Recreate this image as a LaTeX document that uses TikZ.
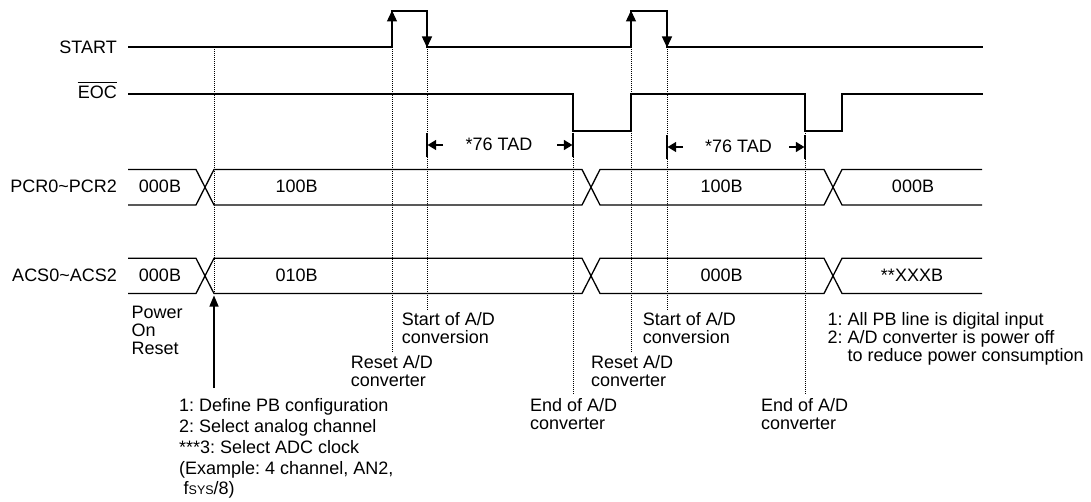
\documentclass[tikz,border=0pt]{standalone}
\usepackage{fontspec}
\setmainfont{Liberation Sans}
\usetikzlibrary{arrows.meta}
\frenchspacing
\begin{document}
\begin{tikzpicture}[x=1pt,y=-1pt,
  sig/.style={line width=1.3pt, line join=miter},
  guide/.style={line width=0.9pt, dash pattern=on 1pt off 1pt},
  txt/.style={font=\fontsize{18}{18}\selectfont, inner sep=0pt},
  note/.style={txt, anchor=north west, align=left},
  edgetip/.style={-{Triangle[length=11pt,width=10pt]}},
  dimtip/.style={-{Triangle[length=8.5pt,width=10pt]}}]
\useasboundingbox (0,0) rectangle (1091,502);

% signal names
\node[txt, anchor=base east] (startlbl) at (117,54) {START};
\node[txt, anchor=base east] (eoclbl) at (117,99) {EOC};
\draw[line width=1pt] ([yshift=4pt]eoclbl.north west) -- ([yshift=4pt]eoclbl.north east);
\node[txt, anchor=base east] (pcrlbl) at (117,193) {PCR0\textasciitilde PCR2};
\node[txt, anchor=base east] (acslbl) at (117,282) {ACS0\textasciitilde ACS2};

% guide lines (dotted)
\draw[guide] (214,47) -- (214,293);
\draw[guide] (392,47) -- (392,352);
\draw[guide] (427,47) -- (427,310);
\draw[guide] (573,131) -- (573,395);
\draw[guide] (631,47) -- (631,352);
\draw[guide] (667,47) -- (667,310);
\draw[guide] (805,131) -- (805,395);

% START
\draw[sig] (128,47) -- (392,47) -- (392,11) -- (427,11) -- (427,47) -- (631,47)
  -- (631,11) -- (667,11) -- (667,47) -- (983,47);
\draw[sig, edgetip] (392,35) -- (392,10.5);
\draw[sig, edgetip] (427,25) -- (427,47.5);
\draw[sig, edgetip] (631,35) -- (631,10.5);
\draw[sig, edgetip] (667,25) -- (667,47.5);

% EOC
\draw[sig] (128,94) -- (573,94) -- (573,131) -- (631,131) -- (631,94) -- (805,94)
  -- (805,131) -- (842,131) -- (842,94) -- (983,94);

% 76 TAD dimensions
\draw[sig] (427,133) -- (427,157);
\draw[sig] (573,133) -- (573,157);
\draw[sig, dimtip] (443,145) -- (427.6,145);
\draw[sig, dimtip] (557,145) -- (572.4,145);
\node[txt, anchor=base] (tad1) at (499,151) {*76 TAD};
\draw[sig] (667,135) -- (667,159);
\draw[sig] (805,135) -- (805,159);
\draw[sig, dimtip] (683,147) -- (667.6,147);
\draw[sig, dimtip] (789,147) -- (804.4,147);
\node[txt, anchor=base] (tad2) at (738.5,153) {*76 TAD};

% PCR bus
\draw[sig] (128,169.5) -- (196,169.5) -- (214,205) -- (582,205) -- (600,169.5) -- (824,169.5) -- (842,205) -- (982,205);
\draw[sig] (128,205) -- (196,205) -- (214,169.5) -- (582,169.5) -- (600,205) -- (824,205) -- (842,169.5) -- (982,169.5);
\node[txt, anchor=base] (pcra) at (160,193) {000B};
\node[txt, anchor=base] (pcrb) at (296.7,193) {100B};
\node[txt, anchor=base] (pcrc) at (721.7,193) {100B};
\node[txt, anchor=base] (pcrd) at (913,193) {000B};

% ACS bus
\draw[sig] (128,258.3) -- (196,258.3) -- (214,293.5) -- (582,293.5) -- (600,258.3) -- (824,258.3) -- (842,293.5) -- (982,293.5);
\draw[sig] (128,293.5) -- (196,293.5) -- (214,258.3) -- (582,258.3) -- (600,293.5) -- (824,293.5) -- (842,258.3) -- (982,258.3);
\node[txt, anchor=base] (acsa) at (160,282) {000B};
\node[txt, anchor=base] (acsb) at (296.7,282) {010B};
\node[txt, anchor=base] (acsc) at (721.7,282) {000B};
\node[txt, anchor=base] (acsd) at (912,282) {**XXXB};

% annotations
\node[note] (por) at (131.5,306) {Power\\On\\Reset};
\node[note, font=\fontsize{18}{20.8}\selectfont] (cfg) at (179,398.5)
  {1: Define PB configuration\\2: Select analog channel\\***3: Select ADC clock\\(Example: 4 channel, AN2,\\\hspace*{4.5pt}f{\fontsize{12.5}{12.5}\selectfont SYS}/8)};
\coordinate (cfgarrow) at (214,388);
\draw[sig, -{Triangle[length=11pt,width=9pt]}] (cfgarrow) -- (214,295.5);
\node[note] (start1) at (401.7,312.5) {Start of A/D\\conversion};
\node[note] (reset1) at (350.7,355.3) {Reset A/D\\converter};
\node[note] (end1) at (530,398) {End of A/D\\converter};
\node[note] (start2) at (642.7,312.5) {Start of A/D\\conversion};
\node[note] (reset2) at (591,355.3) {Reset A/D\\converter};
\node[note] (end2) at (761,398) {End of A/D\\converter};
\node[note] (off) at (827.3,312) {1: All PB line is digital input\\2: A/D converter is power off\\\hphantom{2:\ }to reduce power consumption};
\end{tikzpicture}
\end{document}
